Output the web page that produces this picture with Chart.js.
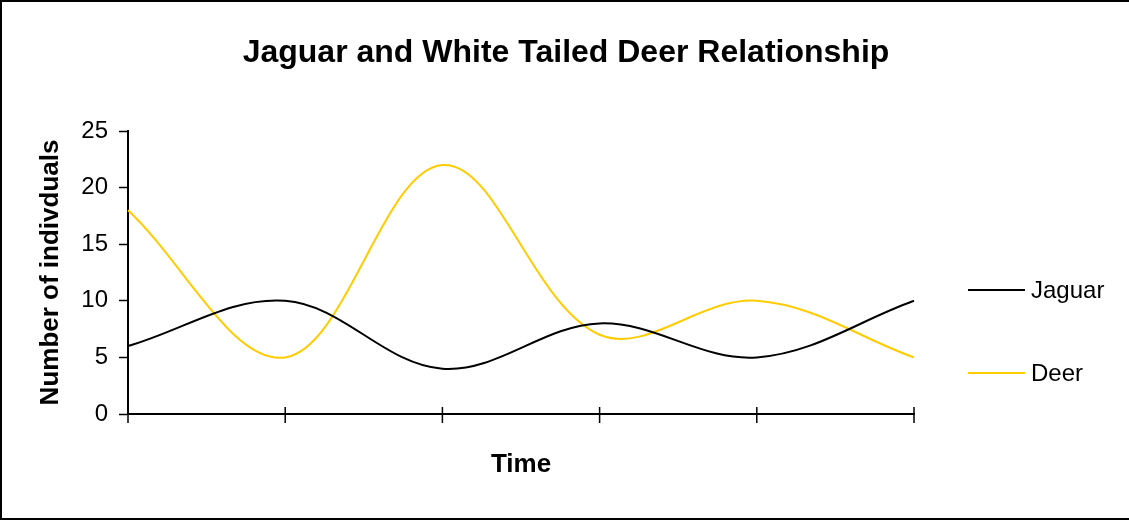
<!DOCTYPE html>
<html>
<head>
<meta charset="utf-8">
<title>Jaguar and White Tailed Deer Relationship</title>
<script src="https://cdn.jsdelivr.net/npm/chart.js@4"></script>
<style>
  html, body { margin: 0; padding: 0; background: #fff; }
  #wrap { position: relative; width: 1129px; height: 520px; }
</style>
</head>
<body>
<div id="wrap"><canvas id="chart" width="1129" height="520"></canvas></div>
<script>
'use strict';

// ── Data ───────────────────────────────────────────────────────────────────
const TIME_POINTS = ['1', '2', '3', '4', '5', '6'];
const JAGUAR      = [6, 10, 4, 8, 5, 10];
const DEER        = [18, 5, 22, 7, 10, 5];
const Y_TICKS     = [0, 5, 10, 15, 20, 25];
const TITLE       = 'Jaguar and White Tailed Deer Relationship';

const FONT = 'Arial, "Liberation Sans", sans-serif';

// ── Plugins ────────────────────────────────────────────────────────────────

// page frame (top, left, bottom) + title centred on the whole page
const framePlugin = {
  id: 'frame',
  afterDraw(chart) {
    const ctx = chart.ctx;
    ctx.save();
    ctx.strokeStyle = '#000';
    ctx.lineWidth = 2;
    ctx.beginPath();
    ctx.moveTo(chart.width, 1);
    ctx.lineTo(1, 1);
    ctx.lineTo(1, chart.height - 1);
    ctx.lineTo(chart.width, chart.height - 1);
    ctx.stroke();

    ctx.fillStyle = '#000';
    ctx.font = 'bold 32px ' + FONT;
    ctx.textAlign = 'center';
    ctx.textBaseline = 'middle';
    ctx.fillText(TITLE, 566, 53);
    ctx.restore();
  }
};

// x tick marks that cross the axis line
const crossTicks = {
  id: 'crossTicks',
  afterDraw(chart) {
    const x = chart.scales.x;
    const ctx = chart.ctx;
    ctx.save();
    ctx.strokeStyle = '#000';
    ctx.lineWidth = 1.5;
    ctx.beginPath();
    x.ticks.forEach((t, i) => {
      const px = x.getPixelForTick(i);
      ctx.moveTo(px, x.top - 7);
      ctx.lineTo(px, x.top + 9);
    });
    ctx.stroke();
    ctx.restore();
  }
};

// Excel-style legend on the right
const sideLegend = {
  id: 'sideLegend',
  afterDraw(chart) {
    const ctx = chart.ctx;
    const rows = [290, 373];
    ctx.save();
    ctx.font = '24px ' + FONT;
    ctx.textBaseline = 'middle';
    chart.data.datasets.forEach((ds, i) => {
      const y = rows[i];
      ctx.strokeStyle = ds.borderColor;
      ctx.lineWidth = 2;
      ctx.beginPath();
      ctx.moveTo(968, y);
      ctx.lineTo(1025, y);
      ctx.stroke();
      ctx.fillStyle = '#000';
      ctx.fillText(ds.label, 1031, y + 1);
    });
    ctx.restore();
  }
};

// ── Chart ──────────────────────────────────────────────────────────────────

new Chart(document.getElementById('chart'), {
  type: 'line',
  data: {
    labels: TIME_POINTS,
    datasets: [
      { label: 'Jaguar', data: JAGUAR, borderColor: '#000000', borderWidth: 2,
        pointRadius: 0, tension: 0.36, fill: false },
      { label: 'Deer', data: DEER, borderColor: '#FFCC00', borderWidth: 2,
        pointRadius: 0, tension: 0.36, fill: false }
    ]
  },
  options: {
    responsive: false,
    animation: false,
    layout: { padding: { left: 0, right: 215, top: 131, bottom: 0 } },
    plugins: {
      legend: { display: false },
      tooltip: { enabled: false },
      title: { display: false }
    },
    scales: {
      x: {
        type: 'category',
        offset: false,
        grid: { display: false, drawOnChartArea: false },
        border: { display: true, color: '#000', width: 2 },
        ticks: { display: false },
        title: {
          display: true, text: 'Time', color: '#000',
          font: { family: FONT, size: 26, weight: 'bold', lineHeight: 1.2 },
          padding: { top: 0, bottom: 40 }
        },
        afterFit(scale) { scale.height = 106; }
      },
      y: {
        min: 0, max: 25,
        afterBuildTicks(scale) { scale.ticks = Y_TICKS.map(v => ({ value: v })); },
        grid: { drawOnChartArea: false, drawTicks: true, tickLength: 9, tickWidth: 1.5, tickColor: '#000' },
        border: { display: true, color: '#000', width: 2 },
        ticks: { color: '#000', padding: 11, font: { family: FONT, size: 24 } },
        title: {
          display: true, text: 'Number of indivduals', color: '#000',
          font: { family: FONT, size: 26, weight: 'bold', lineHeight: 1.2 },
          padding: { top: 35, bottom: 0 }
        },
        afterFit(scale) { scale.width = 128; }
      }
    }
  },
  plugins: [framePlugin, crossTicks, sideLegend]
});
</script>
</body>
</html>
